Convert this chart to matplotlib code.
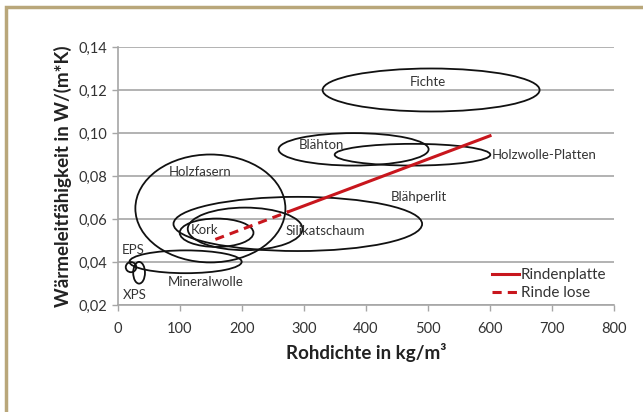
import matplotlib
matplotlib.use("Agg")
import matplotlib.pyplot as plt
from matplotlib.patches import Ellipse, Rectangle

plt.rcParams['font.family'] = ['Lato', 'DejaVu Sans']

# Material ellipses: name, center density, center conductivity, width (density), height (conductivity)
materials = ["Fichte", "Blähton", "Holzwolle-Platten", "Holzfasern", "Blähperlit",
             "Silikatschaum", "Kork", "Mineralwolle", "EPS", "XPS"]
center_x = [505, 380, 475, 149, 290, 205, 159, 109, 21, 34]
center_y = [0.120, 0.0924, 0.0899, 0.0649, 0.0577, 0.0554, 0.0536, 0.0401, 0.0376, 0.0350]
width_x = [350, 242, 251, 242, 401, 185, 119, 181, 17, 19]
height_y = [0.0200, 0.0151, 0.0101, 0.0502, 0.0252, 0.0198, 0.0132, 0.0106, 0.0047, 0.0101]

# Label positions
label_x = [499, 328, 603, 132, 485, 271, 117, 142, 25, 27]
label_y = [0.1238, 0.0942, 0.0898, 0.0817, 0.0703, 0.0543, 0.0548, 0.0309, 0.0457, 0.0245]
label_ha = ["center", "center", "left", "center", "center", "left", "left", "center", "center", "center"]

# Bark lines
rindenplatte_x = [275, 600]
rindenplatte_y = [0.0634, 0.0987]
rinde_lose_x = [157, 275]
rinde_lose_y = [0.0505, 0.0634]

x_ticks = [0, 100, 200, 300, 400, 500, 600, 700, 800]
y_ticks = [0.02, 0.04, 0.06, 0.08, 0.10, 0.12, 0.14]
y_tick_labels = ["0,02", "0,04", "0,06", "0,08", "0,10", "0,12", "0,14"]

fig = plt.figure(figsize=(6.43, 4.12), dpi=100)
fig.patch.set_facecolor("white")

# Gold frame
fig.patches.append(Rectangle((6/643, -0.2), 1.5, 1 - 7/412 + 0.2, transform=fig.transFigure,
                             fill=False, edgecolor="#b9a77a", linewidth=2.5, zorder=0))

ax = fig.add_axes([118/643, (412-305)/412, (614-118)/643, (305-47)/412])
ax.set_xlim(0, 800)
ax.set_ylim(0.02, 0.14)

ax.set_xticks(x_ticks)
ax.set_xticklabels([str(v) for v in x_ticks])
ax.set_yticks(y_ticks)
ax.set_yticklabels(y_tick_labels)
ax.yaxis.grid(True, color="#a6a6a6", linewidth=1.2)
ax.set_axisbelow(True)
for s in ["top", "right"]:
    ax.spines[s].set_visible(False)
for s in ["left", "bottom"]:
    ax.spines[s].set_color("#a6a6a6")
    ax.spines[s].set_linewidth(1.2)
ax.tick_params(axis="both", colors="#a6a6a6", labelcolor="#333333", labelsize=10.5,
               length=4, width=1.0, direction="out")
ax.tick_params(axis="x", pad=8)

for cx, cy, w, h in zip(center_x, center_y, width_x, height_y):
    ax.add_patch(Ellipse((cx, cy), w, h, fill=False, edgecolor="#111111", linewidth=1.3, zorder=3))

for name, lx, ly, ha in zip(materials, label_x, label_y, label_ha):
    ax.text(lx, ly, name, ha=ha, va="center", fontsize=9.5, color="#333333", zorder=4)

ax.plot(rindenplatte_x, rindenplatte_y, color="#c8161d", linewidth=2.2, zorder=5, label="Rindenplatte")
ax.plot(rinde_lose_x, rinde_lose_y, color="#c8161d", linewidth=2.2, linestyle=(0, (3, 2)), zorder=5,
        label="Rinde lose")

leg = ax.legend(loc="lower right", bbox_to_anchor=(1.0, -0.01), frameon=False, fontsize=11,
                handlelength=1.8, handletextpad=0.1, labelspacing=0.25, borderaxespad=0.1)
for t in leg.get_texts():
    t.set_color("#333333")

ax.set_xlabel("Rohdichte in kg/m³", fontsize=13.5, fontweight="bold", color="#222222", labelpad=5)
ax.set_ylabel("Wärmeleitfähigkeit in W/(m*K)", fontsize=13.5, fontweight="bold", color="#222222", labelpad=5)

fig.savefig("out.png", dpi=100)
